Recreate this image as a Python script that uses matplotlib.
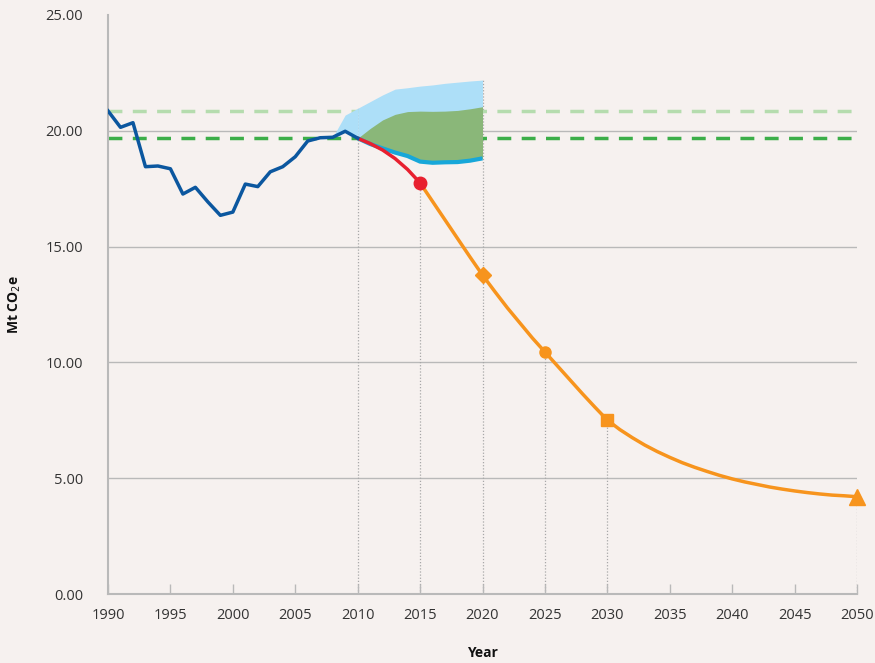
import numpy as np
import matplotlib.pyplot as plt

plt.rcParams['font.family'] = ['Open Sans', 'DejaVu Sans']

# historic emissions
hist_years = list(range(1990, 2011))
hist_vals = [20.86, 20.15, 20.35, 18.45, 18.48, 18.36, 17.27, 17.56, 16.93, 16.35, 16.49,
             17.70, 17.59, 18.23, 18.45, 18.88, 19.56, 19.70, 19.72, 19.98, 19.68]

# projection 2010-2015 (red)
red_years = [2010, 2011, 2012, 2013, 2014, 2015]
red_vals = [19.68, 19.45, 19.17, 18.80, 18.33, 17.75]

# projection bands 2010-2020
band_years = list(range(2010, 2021))
band_low = [19.68, 19.43, 19.24, 19.06, 18.91, 18.67, 18.62, 18.64, 18.65, 18.71, 18.81]
band_mid = [19.68, 20.10, 20.47, 20.71, 20.83, 20.85, 20.84, 20.85, 20.88, 20.95, 21.04]
band_high = [20.97, 21.26, 21.55, 21.80, 21.86, 21.93, 21.98, 22.05, 22.10, 22.15, 22.19]
# light blue wedge before 2010
pre_years = [2008, 2009, 2010]
pre_low = [19.72, 19.98, 19.68]
pre_high = [19.72, 20.68, 20.97]

# target pathway (orange)
path_years = list(range(2015, 2051))
path_vals = [17.75, 16.95, 16.15, 15.35, 14.55, 13.77, 13.05, 12.35, 11.70, 11.05,
             10.45, 9.85, 9.25, 8.65, 8.07, 7.51, 7.10, 6.75, 6.43, 6.15,
             5.90, 5.67, 5.47, 5.29, 5.12, 4.97, 4.84, 4.73, 4.62, 4.53,
             4.45, 4.38, 4.32, 4.27, 4.24, 4.20]

# milestones
ms_years = [2020, 2025, 2030, 2050]
ms_vals = [13.77, 10.45, 7.51, 4.20]
ms_markers = ['D', 'o', 's', '^']
ms_sizes = [8, 8, 8, 11]

# reference levels
ref_1990 = 20.86
ref_2 = 19.71

# dotted guide lines
guide_years = [2010, 2015, 2020, 2025, 2030, 2050]
guide_tops = [20.97, 17.75, 22.19, 10.45, 7.51, 4.20]

bg = '#f6f1ef'
grid_c = '#b9b9b9'
orange = '#f7941d'

fig = plt.figure(figsize=(8.75, 6.63), dpi=100, facecolor=bg)
ax = fig.add_axes([108/875, 1 - 594/663, 749/875, 579/663], facecolor=bg)

ax.set_xlim(1990, 2050)
ax.set_ylim(0, 25)

for yv in [5, 10, 15, 20]:
    ax.axhline(yv, color=grid_c, lw=1, zorder=1)

for gx, gt in zip(guide_years, guide_tops):
    ax.vlines(gx, 0, gt, color='#a8a8a8', lw=0.9, linestyles=(0, (1, 1.5)), zorder=1.5)

ax.axhline(ref_1990, color='#b5dcae', lw=2.5, ls=(0, (4, 3)), zorder=1.6)
ax.axhline(ref_2, color='#3cae49', lw=2.5, ls=(0, (4, 3)), zorder=1.6)

ax.fill_between(pre_years, pre_low, pre_high, color='#addff8', lw=0, zorder=2)
ax.fill_between(band_years, band_low, band_high, color='#addff8', lw=0, zorder=2)
ax.fill_between(band_years, band_low, band_mid, color='#8ab779', lw=0, zorder=2.1)

ax.plot(band_years, band_low, color='#17a7d9', lw=3, zorder=3, solid_capstyle='butt')
ax.plot(path_years, path_vals, color=orange, lw=2.5, zorder=3)
ax.plot(red_years, red_vals, color='#e8202f', lw=2.5, zorder=3.5)
ax.plot(hist_years, hist_vals, color='#0b579f', lw=2.5, zorder=4)

ax.plot(red_years[-1], red_vals[-1], 'o', color='#e8202f', ms=9, zorder=5)
for x, y, m, s in zip(ms_years, ms_vals, ms_markers, ms_sizes):
    ax.plot(x, y, m, color=orange, ms=s, zorder=5, clip_on=False)

for s in ['top', 'right']:
    ax.spines[s].set_visible(False)
for s in ['left', 'bottom']:
    ax.spines[s].set_color(grid_c)
    ax.spines[s].set_linewidth(1.5)

ax.set_xticks(range(1990, 2051, 5))
ax.set_yticks([0, 5, 10, 15, 20, 25])
ax.set_yticklabels([f'{v:.2f}' for v in [0, 5, 10, 15, 20, 25]])
ax.tick_params(axis='x', direction='in', length=7, width=1, color=grid_c,
               labelsize=10.5, labelcolor='#333333', pad=10)
ax.tick_params(axis='y', length=0, labelsize=10.5, labelcolor='#333333', pad=18)

ax.set_xlabel('Year', fontsize=10, fontweight='bold', color='#111111')
ax.xaxis.set_label_coords(0.5, -0.09)
ax.set_ylabel('Mt CO$_2$e', fontsize=10, fontweight='bold', color='#111111')
ax.yaxis.set_label_coords(-0.113, 0.5)

fig.savefig('out.png', dpi=100, facecolor=bg)
